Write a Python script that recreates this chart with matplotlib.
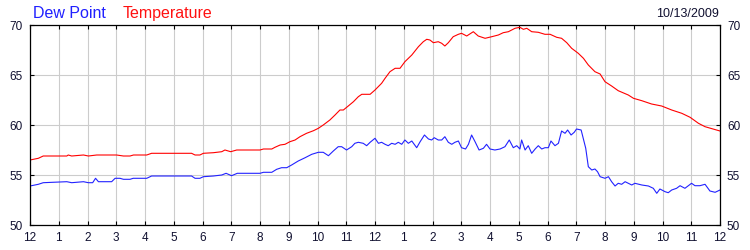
import matplotlib
matplotlib.use("Agg")
import matplotlib.pyplot as plt

plt.rcParams['font.family'] = ['Liberation Sans', 'DejaVu Sans']

# Hours since midnight and values (deg F)
temp_hours = [0.0, 0.29, 0.46, 1.28, 1.33, 1.45, 1.86, 2.03, 2.32, 3.01, 3.25, 3.48, 3.6,
              4.06, 4.23, 5.62, 5.74, 5.91, 6.03, 6.38, 6.67, 6.78, 6.98, 7.19, 8.0, 8.12,
              8.41, 8.52, 8.7, 8.87, 9.04, 9.22, 9.39, 9.62, 9.86, 10.03, 10.2, 10.43, 10.61,
              10.78, 10.9, 11.07, 11.25, 11.42, 11.54, 11.83, 12.0, 12.23, 12.35, 12.52,
              12.70, 12.87, 13.04, 13.28, 13.51, 13.68, 13.80, 13.91, 14.03, 14.20, 14.32,
              14.43, 14.55, 14.72, 14.90, 15.01, 15.19, 15.42, 15.59, 15.83, 16.06, 16.29,
              16.46, 16.64, 16.87, 17.04, 17.16, 17.28, 17.45, 17.68, 17.91, 18.09, 18.32,
              18.49, 18.67, 18.84, 19.07, 19.25, 19.42, 19.65, 19.83, 20.0, 20.23, 20.46,
              20.81, 20.99, 21.28, 21.62, 21.97, 22.32, 22.67, 22.96, 23.25, 23.48, 24.0]
temp_values = [56.5, 56.67, 56.9, 56.9, 57.0, 56.9, 57.0, 56.9, 57.0, 57.0, 56.9, 56.9, 57.0,
               57.0, 57.17, 57.17, 57.0, 57.0, 57.17, 57.23, 57.33, 57.5, 57.33, 57.5, 57.5, 57.6,
               57.6, 57.77, 58.0, 58.07, 58.33, 58.5, 58.83, 59.17, 59.43, 59.67, 60.0, 60.5, 61.0,
               61.5, 61.5, 61.9, 62.33, 62.83, 63.07, 63.07, 63.5, 64.17, 64.67, 65.33,
               65.67, 65.67, 66.33, 67.0, 67.83, 68.33, 68.57, 68.5, 68.23, 68.33, 68.17,
               67.9, 68.23, 68.83, 69.07, 69.17, 68.9, 69.33, 68.9, 68.67, 68.83, 69.0,
               69.23, 69.33, 69.67, 69.77, 69.57, 69.67, 69.33, 69.27, 69.07, 69.07, 68.77,
               68.67, 68.23, 67.67, 67.17, 66.67, 66.0, 65.33, 65.1, 64.33, 63.9, 63.43,
               63.0, 62.67, 62.43, 62.1, 61.9, 61.5, 61.17, 60.77, 60.17, 59.83, 59.4]

dew_hours = [0.0, 0.29, 0.46, 1.28, 1.45, 1.86, 2.03, 2.18, 2.28, 2.38, 2.84, 2.96, 3.13,
             3.25, 3.48, 3.59, 4.06, 4.23, 5.62, 5.74, 5.91, 6.03, 6.38, 6.67, 6.82, 7.01,
             7.21, 8.0, 8.12, 8.41, 8.58, 8.75, 8.93, 9.1, 9.33, 9.57, 9.8, 10.03, 10.2,
             10.38, 10.55, 10.72, 10.84, 11.01, 11.19, 11.3, 11.42, 11.59, 11.71, 11.83,
             12.0, 12.12, 12.23, 12.35, 12.46, 12.58, 12.70, 12.81, 12.93, 13.04, 13.16,
             13.28, 13.45, 13.57, 13.72, 13.86, 13.97, 14.06, 14.20, 14.32, 14.43, 14.55,
             14.67, 14.78, 14.90, 15.01, 15.15, 15.25, 15.36, 15.48, 15.62, 15.77, 15.88,
             16.0, 16.17, 16.35, 16.52, 16.67, 16.81, 16.93, 17.04, 17.10, 17.22, 17.33,
             17.45, 17.57, 17.68, 17.80, 17.91, 18.03, 18.12, 18.26, 18.38, 18.49, 18.61,
             18.70, 18.82, 18.93, 19.01, 19.17, 19.33, 19.42, 19.54, 19.65, 19.74, 19.83,
             20.0, 20.12, 20.23, 20.35, 20.46, 20.58, 20.70, 20.81, 20.93, 21.04, 21.28,
             21.51, 21.68, 21.80, 21.91, 22.09, 22.20, 22.32, 22.49, 22.61, 22.78, 23.01,
             23.13, 23.30, 23.48, 23.65, 23.83, 24.0]
dew_values = [53.9, 54.07, 54.23, 54.33, 54.23, 54.33, 54.23, 54.23, 54.67, 54.33, 54.33, 54.67, 54.67,
              54.57, 54.57, 54.67, 54.67, 54.9, 54.9, 54.67, 54.67, 54.83, 54.9, 55.0, 55.17, 54.93,
              55.17, 55.17, 55.27, 55.27, 55.57, 55.73, 55.73, 56.0, 56.4, 56.73, 57.07, 57.27, 57.27,
              56.93, 57.4, 57.83, 57.83, 57.5, 57.83, 58.17, 58.27, 58.17, 57.93, 58.27,
              58.67, 58.17, 58.27, 58.07, 57.93, 58.17, 58.07, 58.27, 58.07, 58.5, 58.17,
              58.4, 57.73, 58.33, 59.0, 58.6, 58.5, 58.73, 58.5, 58.5, 58.83, 58.27,
              58.07, 58.27, 58.4, 57.73, 57.6, 58.07, 59.0, 58.33, 57.5, 57.67, 58.07,
              57.6, 57.5, 57.6, 57.83, 58.5, 57.73, 57.93, 57.6, 58.5, 57.5, 57.93,
              57.17, 57.6, 57.93, 57.6, 57.73, 57.73, 58.4, 57.93, 58.17, 59.4, 59.17,
              59.5, 59.0, 59.27, 59.6, 59.5, 57.67, 55.83, 55.5, 55.6, 55.33, 54.83,
              54.67, 54.83, 54.33, 53.9, 54.17, 54.07, 54.33, 54.17, 54.0, 54.17, 54.0,
              53.9, 53.67, 53.17, 53.6, 53.33, 53.23, 53.5, 53.67, 53.93, 53.67, 54.17,
              53.93, 53.93, 54.07, 53.4, 53.27, 53.5]

x_ticks = list(range(0, 25))
x_labels = ['12', '1', '2', '3', '4', '5', '6', '7', '8', '9', '10', '11',
            '12', '1', '2', '3', '4', '5', '6', '7', '8', '9', '10', '11', '12']
y_ticks = [50, 55, 60, 65, 70]
date_label = '10/13/2009'

fig = plt.figure(figsize=(7.5, 2.5), dpi=100)
ax = fig.add_axes([30/750, 25/250, 690/750, 200/250])

ax.plot(temp_hours, temp_values, color='#ff0000', lw=0.8)
ax.plot(dew_hours, dew_values, color='#2222ff', lw=0.8)

ax.set_xlim(0, 24)
ax.set_ylim(50, 70)
ax.set_xticks(x_ticks)
ax.set_xticklabels(x_labels)
ax.set_yticks(y_ticks)
ax.grid(True, color='#cccccc', lw=0.8)
ax.set_axisbelow(True)
for s in ax.spines.values():
    s.set_color('black')
    s.set_linewidth(0.9)

lab_color = '#101030'
ax.tick_params(axis='x', direction='in', length=3, width=0.8, top=True, bottom=True,
               labelsize=8.5, pad=5, colors='black', labelcolor=lab_color)
ax.tick_params(axis='y', direction='in', length=3, width=0.8, left=True, right=True,
               labelleft=True, labelright=True, labelsize=8.5, pad=5,
               colors='black', labelcolor=lab_color)

fig.text(33/750, 1 - 18/250, 'Dew Point', color='#2020ff', fontsize=11.5, va='baseline', ha='left')
fig.text(123/750, 1 - 18/250, 'Temperature', color='#ff1010', fontsize=11.5, va='baseline', ha='left')
fig.text(719/750, 1 - 17/250, date_label, color=lab_color, fontsize=9, va='baseline', ha='right')

fig.savefig('out.png', dpi=100)
